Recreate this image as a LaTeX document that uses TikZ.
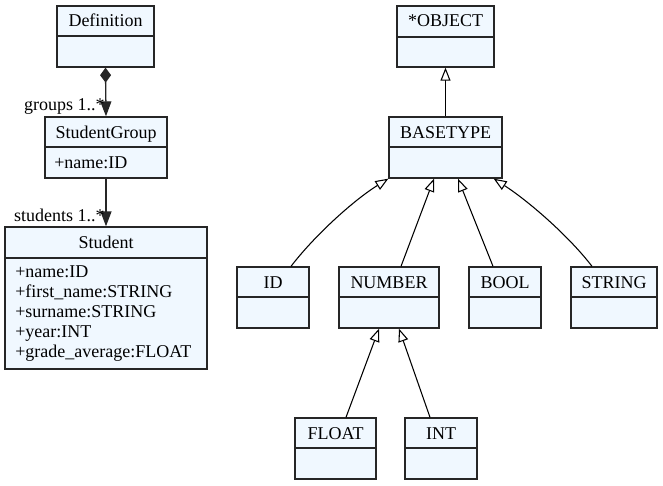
\documentclass[tikz,border=0pt]{standalone}
\usepackage{fontspec}
\setmainfont{Liberation Serif}
\usetikzlibrary{arrows.meta,fit,calc}

\definecolor{classfill}{HTML}{F0F8FF}
\definecolor{ink}{HTML}{262626}

\tikzset{
  cls/.style={draw=ink, line width=1pt, fill=classfill, inner sep=0pt},
  divider/.style={draw=ink, line width=1pt},
  ttl/.style={anchor=base, inner sep=0pt},
  attr/.style={anchor=base west, inner sep=0pt},
  role/.style={anchor=base east, inner sep=0pt},
  gen/.style={draw=black, line width=0.8pt,
    -{Triangle[open, length=9.75pt, width=7.5pt, fill=white]}},
  comp/.style={draw=ink, line width=1pt,
    {Diamond[length=11.25pt, width=8.25pt]}-{Triangle[length=11.25pt, width=8.25pt]}},
  assoc/.style={draw=ink, line width=1pt,
    -{Triangle[length=11.25pt, width=8.25pt]}},
}

% class box: name, x1, y1, x2, y2, divider y, title
\newcommand\umlclass[7]{%
  \node[cls, fit={(#2,#3) (#4,#5)}] (#1) {};
  \draw[divider] (#2,#6) -- (#4,#6);
  \node[ttl] (#1-title) at ({(#2+#4)/2},{#3+21}) {#7};
}

\begin{document}
\begin{tikzpicture}[x=0.75pt, y=-0.75pt, font=\fontsize{13.5pt}{15pt}\selectfont]
\useasboundingbox (0,0) rectangle (663,485);

% left: student model
\umlclass{def}{57}{6}{154}{67}{36}{Definition}
\umlclass{sg}{45}{117}{167}{178}{147}{StudentGroup}
\node[attr] (sg-a1) at (54,168) {+name:ID};
\umlclass{st}{5}{227}{207}{369}{258}{Student}
\node[attr] (st-a1) at (15,277) {+name:ID};
\node[attr] (st-a2) at (15,297) {+first\_name:STRING};
\node[attr] (st-a3) at (15,317) {+surname:STRING};
\node[attr] (st-a4) at (15,337) {+year:INT};
\node[attr] (st-a5) at (15,357) {+grade\_average:FLOAT};

\draw[comp] (def.south) -- (sg.north);
\draw[assoc] (sg.south) -- (st.north);
\node[role] (groups) at ($(sg.north)+(-1,-6)$) {groups 1..*};
\node[role] (students) at ($(st.north)+(-1,-5)$) {students 1..*};

% right: type hierarchy
\umlclass{obj}{397}{6}{494}{67}{37}{*OBJECT}
\umlclass{bt}{389}{117}{502}{178}{147}{BASETYPE}
\umlclass{id}{237}{267}{309}{328}{297}{ID}
\umlclass{num}{339}{267}{439}{328}{297}{NUMBER}
\umlclass{bool}{469}{267}{541}{328}{297}{BOOL}
\umlclass{str}{571}{267}{657}{328}{297}{STRING}
\umlclass{flt}{295}{418}{376}{479}{448}{FLOAT}
\umlclass{int}{405}{418}{477}{479}{448}{INT}

\draw[gen] (bt.north) -- (obj.south);
\draw[gen] ($(id.north)+(18,0)$) .. controls (315,235) and (354,200) .. (bt.south west);
\draw[gen] ($(num.north)+(12,0)$) -- ($(bt.south)+(-11.5,0)$);
\draw[gen] ($(bool.north)+(-12,0)$) -- ($(bt.south)+(12.5,0)$);
\draw[gen] ($(str.north)+(-22,0)$) .. controls (568,235) and (527,200) .. ($(bt.south east)+(-9,0)$);
\draw[gen] ($(flt.north)+(10.5,0)$) -- ($(num.south)+(-10,0)$);
\draw[gen] ($(int.north)+(-11,0)$) -- ($(num.south)+(10,0)$);
\end{tikzpicture}
\end{document}
